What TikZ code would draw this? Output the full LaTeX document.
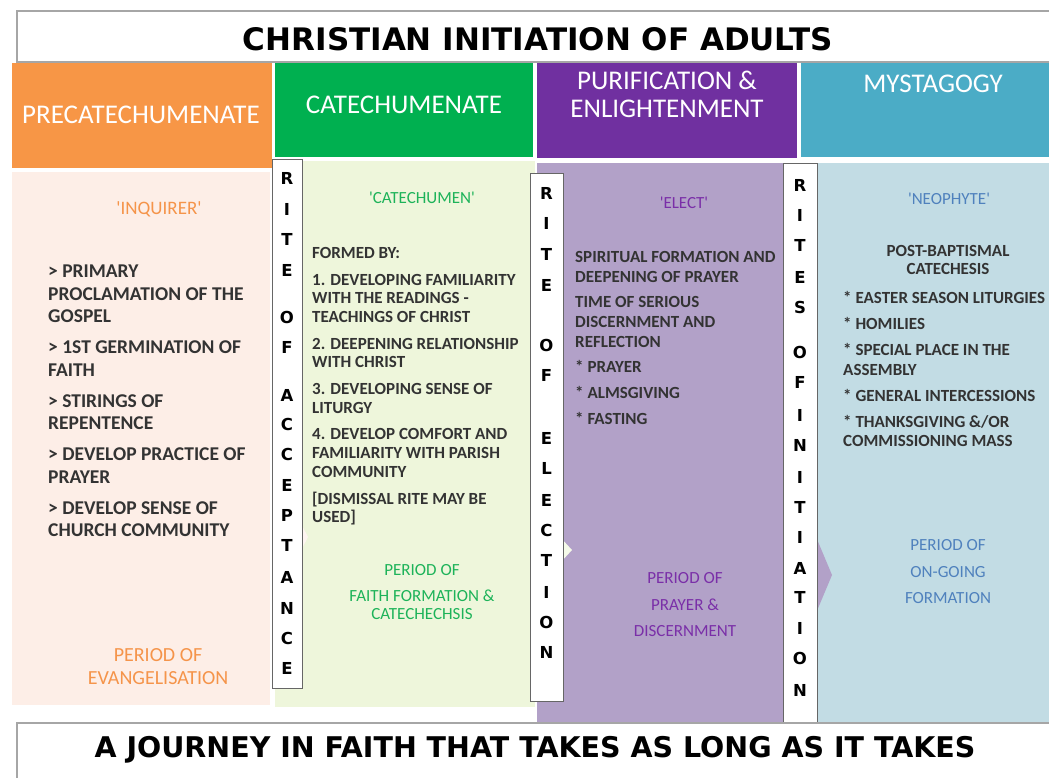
\documentclass[tikz,border=0pt]{standalone}
\usepackage{fontspec}
\setmainfont{Carlito}
\newfontfamily\riteface{DejaVu Sans}
\usetikzlibrary{positioning}

\definecolor{hdorange}{HTML}{F79646}
\definecolor{hdgreen}{HTML}{00B050}
\definecolor{hdpurple}{HTML}{7030A0}
\definecolor{hdteal}{HTML}{4BACC6}
\definecolor{bdpeach}{HTML}{FDEEE7}
\definecolor{bdgreen}{HTML}{EEF6DB}
\definecolor{bdlilac}{HTML}{B2A1C8}
\definecolor{bdblue}{HTML}{C2DCE4}
\definecolor{txtgray}{HTML}{333333}
\definecolor{tagorange}{HTML}{F5944A}
\definecolor{taggreen}{HTML}{1DB359}
\definecolor{tagpurple}{HTML}{7A2FA8}
\definecolor{tagblue}{HTML}{4F81BD}

\newcommand{\q}[1]{\textquotesingle#1\textquotesingle}

\begin{document}
\begin{tikzpicture}[x=1pt, y=-1pt, inner sep=0pt,
    header/.style={font=\fontsize{27}{28}\selectfont, text=white, align=center},
    tag/.style={font=\fontsize{17}{17}\selectfont},
    bodytext/.style={font=\bfseries\fontsize{17}{18.7}\selectfont, text=txtgray, align=left, anchor=north west},
    period/.style={font=\fontsize{17}{26.5}\selectfont, align=center, anchor=north},
    ritebox/.style={draw=black!60, fill=white, line width=0.9pt},
    riteletter/.style={font=\riteface\bfseries\fontsize{16.5}{16.5}\selectfont},
    banner/.style={font=\riteface\bfseries\fontsize{31}{31}\selectfont}]

    \useasboundingbox (0,0) rectangle (1049,777);
    \fill[white] (0,0) rectangle (1049,777);

    \draw[black!35, line width=1.2pt, fill=white] (17,11) rectangle (1065,62);
    \node[banner] (title) at (538,39) {CHRISTIAN INITIATION OF ADULTS};

    \fill[hdorange] (12,63) rectangle (272,168);
    \fill[hdgreen]  (275,63) rectangle (533,157);
    \fill[hdpurple] (537,63) rectangle (797,158);
    \fill[hdteal]   (801,63) rectangle (1049,157);

    \node[header] (pre)  at (141,115) {PRECATECHUMENATE};
    \node[header] (cat)  at (404,105) {CATECHUMENATE};
    \node[header] (pur)  at (667,94)  {PURIFICATION \&\\ENLIGHTENMENT};
    \node[header] (myst) at (933,84)  {MYSTAGOGY};

    \fill[bdpeach] (12,172) rectangle (270,705);
    \fill[bdgreen] (275,161) rectangle (535,707);
    \fill[bdlilac] (537,163) rectangle (790,723);
    \fill[bdblue]  (800,163) rectangle (1049,723);

    \fill[bdpeach!60!white] (272,468) -- (308,537) -- (272,606) -- cycle;
    \fill[bdgreen!60!white] (535,510) -- (572,550) -- (535,590) -- cycle;
    \fill[bdlilac] (790,475) -- (832,575) -- (790,675) -- cycle;

    \draw[ritebox] (272,159) rectangle (302,688);
    \draw[ritebox] (530,173) rectangle (563,701);
    \draw[ritebox] (783,163) rectangle (817,723);

    \foreach \ch/\yy in {R/178, I/209, T/239, E/270, O/317, F/347, A/395, C/424,
                         C/454, E/485, P/515, T/545, A/577, N/608, C/638, E/668}
        \node[riteletter] (acc-\yy) at (287,\yy) {\ch};
    \foreach \ch/\yy in {R/193, I/223, T/254, E/285, O/345, F/375, E/438, L/468,
                         E/500, C/530, T/560, I/592, O/622, N/652}
        \node[riteletter] (ele-\yy) at (546.5,\yy) {\ch};
    \foreach \ch/\yy in {R/185, I/215, T/245, E/277, S/307, O/352, F/382, I/415, N/445,
                         I/477, T/507, I/537, A/568, T/597, I/628, O/658, N/690}
        \node[riteletter] (ini-\yy) at (800,\yy) {\ch};

    \node[tag, text=tagorange, font=\fontsize{19}{19}\selectfont] (inq) at (159,209) {\q{INQUIRER}};
    \node[tag, text=taggreen]  (catq) at (422,198) {\q{CATECHUMEN}};
    \node[tag, text=tagpurple] (elq)  at (684,203) {\q{ELECT}};
    \node[tag, text=tagblue]   (neoq) at (949,199) {\q{NEOPHYTE}};

    \node[bodytext, font=\bfseries\fontsize{19.5}{22.5}\selectfont] (inqlist) at (48,265)
        {> PRIMARY\\PROCLAMATION OF THE\\GOSPEL\\[8.5pt]
         > 1ST GERMINATION OF\\FAITH\\[8.5pt]
         > STIRINGS OF\\REPENTENCE\\[8.5pt]
         > DEVELOP PRACTICE OF\\PRAYER\\[8.5pt]
         > DEVELOP SENSE OF\\CHURCH COMMUNITY};

    \node[bodytext] (catlist) at (312,247)
        {FORMED BY:\\[8pt]
         1. DEVELOPING FAMILIARITY\\WITH THE READINGS -\\TEACHINGS OF CHRIST\\[8pt]
         2. DEEPENING RELATIONSHIP\\WITH CHRIST\\[8pt]
         3. DEVELOPING SENSE OF\\LITURGY\\[8pt]
         4. DEVELOP COMFORT AND\\FAMILIARITY WITH PARISH\\COMMUNITY\\[8pt]
         {[}DISMISSAL RITE MAY BE\\USED{]}};

    \node[bodytext, font=\bfseries\fontsize{17}{19.7}\selectfont] (ellist) at (575,251)
        {SPIRITUAL FORMATION AND\\DEEPENING OF PRAYER\\[6pt]
         TIME OF SERIOUS\\DISCERNMENT AND\\REFLECTION\\[6pt]
         * PRAYER\\[6pt]
         * ALMSGIVING\\[6pt]
         * FASTING};

    \node[bodytext, align=center, anchor=north, font=\bfseries\fontsize{17}{18}\selectfont] (neohead) at (948,245.5)
        {POST-BAPTISMAL\\CATECHESIS};
    \node[bodytext, font=\bfseries\fontsize{17}{19.5}\selectfont] (neolist) at (843,291.5)
        {* EASTER SEASON LITURGIES\\[6.5pt]
         * HOMILIES\\[6.5pt]
         * SPECIAL PLACE IN THE\\ASSEMBLY\\[6.5pt]
         * GENERAL INTERCESSIONS\\[6.5pt]
         * THANKSGIVING \&/OR\\COMMISSIONING MASS};

    \node[period, text=tagorange, font=\fontsize{20}{23}\selectfont] (evang) at (158,648.5)
        {PERIOD OF\\EVANGELISATION};
    \node[period, text=taggreen, font=\fontsize{17}{18}\selectfont] (faith) at (422,564.5)
        {PERIOD OF\\[8pt]FAITH FORMATION \&\\CATECHECHSIS};
    \node[period, text=tagpurple] (discern) at (685,572.5)
        {PERIOD OF\\PRAYER \&\\DISCERNMENT};
    \node[period, text=tagblue] (ongoing) at (948,539.5)
        {PERIOD OF\\ON-GOING\\FORMATION};

    \draw[black!35, line width=1.2pt, fill=white] (17,723) rectangle (1065,800);
    \node[banner, font=\riteface\bfseries\fontsize{28.5}{28.5}\selectfont] (motto) at (535,750)
        {A JOURNEY IN FAITH THAT TAKES AS LONG AS IT TAKES};
\end{tikzpicture}
\end{document}
